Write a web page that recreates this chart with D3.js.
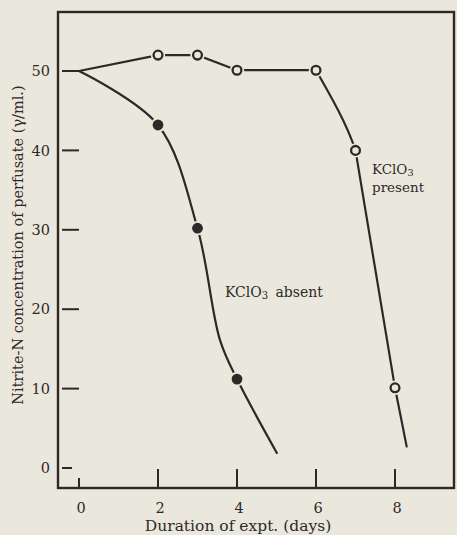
<!DOCTYPE html>
<html>
<head>
<meta charset="utf-8">
<script src="https://cdn.jsdelivr.net/npm/d3@7"></script>
<style>
  html, body { margin: 0; padding: 0; background: #eae8dc; }
  svg { display: block; }
</style>
</head>
<body>
<svg id="chart" width="457" height="535"></svg>
<script>
// ---- data ----
const xTicks = [0, 2, 4, 6, 8];
const yTicks = [0, 10, 20, 30, 40, 50];
const startDay = 0, startValue = 50;

// KClO3 present (open circles)
const presentDays   = [2, 3, 4, 6, 7, 8];
const presentValues = [52, 52, 50.1, 50.1, 40, 10.1];
const presentEnd = [8.3, 2.6];

// KClO3 absent (filled circles)
const absentDays   = [2, 3, 4];
const absentValues = [43.2, 30.2, 11.2];
const absentBendDay = 3.57, absentBendValue = 16.1; // bend of the drawn curve
const absentEnd = [5.02, 1.8];

const xTitle = "Duration of expt. (days)";
const yTitle = "Nitrite-N concentration of perfusate (\u03B3/ml.)";

// ---- layout ----
const ink = "#2f2828", paper = "#eae8dc";
const frame = {left: 58, right: 454, top: 12, bottom: 488};
const svg = d3.select("#chart");
svg.append("rect").attr("width", 457).attr("height", 535).attr("fill", paper);

const x = d3.scaleLinear().domain([0, 8]).range([79, 395]);
const y = d3.scaleLinear().domain([0, 50]).range([468, 71]);

// frame
svg.append("rect")
  .attr("x", frame.left).attr("y", frame.top)
  .attr("width", frame.right - frame.left).attr("height", frame.bottom - frame.top)
  .attr("fill", "none").attr("stroke", ink).attr("stroke-width", 2.4);

// y ticks (inside, short dashes)
const yAxis = svg.append("g");
yTicks.forEach(v => {
  yAxis.append("line")
    .attr("x1", frame.left + 4).attr("x2", v === 0 ? frame.left + 14 : x(0))
    .attr("y1", y(v)).attr("y2", y(v))
    .attr("stroke", ink).attr("stroke-width", 2);
  yAxis.append("text")
    .attr("x", 50).attr("y", y(v)).attr("dy", "0.36em")
    .attr("text-anchor", "end")
    .attr("font-family", "DejaVu Serif").attr("font-size", 14.5)
    .attr("fill", ink).text(v);
});

// x ticks (inside, upward)
const xAxis = svg.append("g");
xTicks.forEach(v => {
  xAxis.append("line")
    .attr("x1", x(v)).attr("x2", x(v))
    .attr("y1", frame.bottom).attr("y2", v === 0 ? frame.bottom - 10 : frame.bottom - 19)
    .attr("stroke", ink).attr("stroke-width", 2);
  xAxis.append("text")
    .attr("x", x(v) + 2).attr("y", 513)
    .attr("text-anchor", "middle")
    .attr("font-family", "DejaVu Serif").attr("font-size", 14.5)
    .attr("fill", ink).text(v);
});

// axis titles
svg.append("text")
  .attr("x", 238).attr("y", 531)
  .attr("text-anchor", "middle")
  .attr("font-family", "DejaVu Serif").attr("font-size", 15.5)
  .attr("fill", ink).text(xTitle);

svg.append("text")
  .attr("transform", "translate(23," + 245 + ") rotate(-90)")
  .attr("text-anchor", "middle")
  .attr("font-family", "DejaVu Serif").attr("font-size", 14.5)
  .attr("fill", ink).text(yTitle);

// ---- lines ----
const line = d3.line().x(d => x(d[0])).y(d => y(d[1]));

const presentPts = [[startDay, startValue]].concat(presentDays.map((d, i) => [d, presentValues[i]]));
// plateau: straight segments
svg.append("path").attr("d", line.curve(d3.curveLinear)(presentPts.slice(0, 5)))
  .attr("fill", "none").attr("stroke", ink).attr("stroke-width", 2.2);
// bend from day 6 to day 7 (curved, clipped at the day-7 point)
svg.append("clipPath").attr("id", "bendClip")
  .append("rect").attr("x", 0).attr("y", 0)
  .attr("width", 457).attr("height", y(presentValues[4]));
svg.append("path").attr("d", line.curve(d3.curveMonotoneY)(presentPts.slice(4, 7)))
  .attr("clip-path", "url(#bendClip)")
  .attr("fill", "none").attr("stroke", ink).attr("stroke-width", 2.2);
// steep straight fall after day 7
svg.append("path").attr("d", line.curve(d3.curveLinear)(presentPts.slice(5).concat([presentEnd])))
  .attr("fill", "none").attr("stroke", ink).attr("stroke-width", 2.2);

// absent
const absentPts = [[startDay, startValue]]
  .concat(absentDays.slice(0, 2).map((d, i) => [d, absentValues[i]]))
  .concat([[absentBendDay, absentBendValue]])
  .concat(absentDays.slice(2).map((d, i) => [d, absentValues[i + 2]]))
  .concat([absentEnd]);
svg.append("path").attr("d", line.curve(d3.curveCatmullRom.alpha(0.5))(absentPts))
  .attr("fill", "none").attr("stroke", ink).attr("stroke-width", 2.2);

// ---- markers with paper halo (gap where line meets circle) ----
const presentMarks = presentDays.map((d, i) => [d, presentValues[i]]);
const absentMarks = absentDays.map((d, i) => [d, absentValues[i]]);

svg.append("g").selectAll("circle").data(presentMarks).join("circle")
  .attr("cx", d => x(d[0])).attr("cy", d => y(d[1])).attr("r", 7.2)
  .attr("fill", paper);
svg.append("g").selectAll("circle").data(presentMarks).join("circle")
  .attr("cx", d => x(d[0])).attr("cy", d => y(d[1])).attr("r", 4.4)
  .attr("fill", paper).attr("stroke", ink).attr("stroke-width", 2.3);

svg.append("g").selectAll("circle").data(absentMarks).join("circle")
  .attr("cx", d => x(d[0])).attr("cy", d => y(d[1])).attr("r", 7.3)
  .attr("fill", paper);
svg.append("g").selectAll("circle").data(absentMarks).join("circle")
  .attr("cx", d => x(d[0])).attr("cy", d => y(d[1])).attr("r", 5.4)
  .attr("fill", ink);

// ---- labels ----
function kclo3(g, px, py, rest, fs) {
  const t = g.append("text").attr("x", px).attr("y", py)
    .attr("font-family", "DejaVu Serif").attr("font-size", fs).attr("fill", ink);
  t.append("tspan").text("KClO");
  t.append("tspan").attr("font-size", fs * 0.72).attr("dy", 2).text("3");
  if (rest) t.append("tspan").attr("dy", -2).text(rest);
  return t;
}
kclo3(svg, 372, 174, null, 13.5);
svg.append("text").attr("x", 372).attr("y", 192)
  .attr("font-family", "DejaVu Serif").attr("font-size", 13.5).attr("fill", ink)
  .text("present");
kclo3(svg, 225, 297, "\u2009 absent", 14);
</script>
</body>
</html>
